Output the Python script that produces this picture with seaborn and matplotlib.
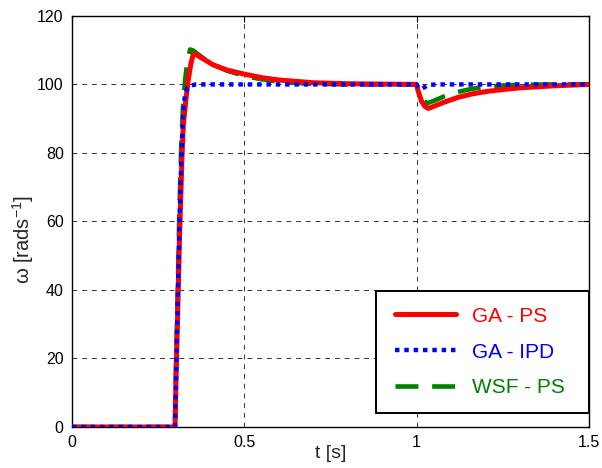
import numpy as np
import pandas as pd
import matplotlib
matplotlib.use("Agg")
import matplotlib.pyplot as plt
from matplotlib.legend_handler import HandlerLine2D
import seaborn as sns

# ---- data ----
t_ga_ps = [0, 0.299, 0.302, 0.306, 0.312, 0.319, 0.323, 0.330, 0.337, 0.345, 0.352, 0.360,
           0.38, 0.41, 0.45, 0.50, 0.55, 0.60, 0.65, 0.70, 0.80, 0.90, 1.0, 1.005, 1.015,
           1.025, 1.035, 1.05, 1.08, 1.12, 1.16, 1.20, 1.25, 1.30, 1.35, 1.40, 1.45, 1.5]
w_ga_ps = [0, 0, 15, 30, 55, 78, 88, 95, 101, 106, 108.8, 108.7,
           107.5, 105.7, 104.2, 103.0, 102.0, 101.3, 100.9, 100.5, 100.2, 100.1, 100, 98, 95,
           93.5, 93.0, 93.6, 94.8, 96.2, 97.2, 97.9, 98.5, 99.0, 99.3, 99.6, 99.8, 100]

t_ga_ipd = [0, 0.299, 0.303, 0.307, 0.312, 0.318, 0.323, 0.328, 0.335, 0.345, 0.36, 0.4,
            1.0, 1.004, 1.012, 1.02, 1.03, 1.04, 1.06, 1.5]
w_ga_ipd = [0, 0, 18, 38, 60, 80, 92, 97, 99, 99.7, 100, 100,
            100, 99.3, 98.6, 99.0, 99.6, 99.9, 100, 100]

t_wsf_ps = [0, 0.299, 0.302, 0.306, 0.311, 0.317, 0.322, 0.328, 0.335, 0.343, 0.35, 0.37,
            0.40, 0.45, 0.5, 0.55, 0.6, 0.65, 0.7, 0.8, 1.0, 1.005, 1.015, 1.03, 1.05,
            1.08, 1.12, 1.16, 1.2, 1.25, 1.3, 1.4, 1.5]
w_wsf_ps = [0, 0, 18, 35, 60, 82, 93, 101, 107, 110.2, 110, 108.5,
            106.3, 104.0, 102.5, 101.5, 100.8, 100.4, 100.2, 100.0, 100, 98.5, 96, 94.5, 95.2,
            96.5, 97.8, 98.7, 99.3, 99.7, 99.9, 100, 100]

labels = ["GA - PS", "GA - IPD", "WSF - PS"]
x_ticks = [0, 0.5, 1, 1.5]
x_tick_labels = ["0", "0.5", "1", "1.5"]
y_ticks = [0, 20, 40, 60, 80, 100, 120]

# ---- style ----
sns.set_style("white")
plt.rcParams["font.family"] = ["Liberation Sans", "DejaVu Sans"]
plt.rcParams["mathtext.fontset"] = "custom"
plt.rcParams["mathtext.rm"] = "Liberation Sans"
plt.rcParams["mathtext.it"] = "Liberation Sans"

fig = plt.figure(figsize=(6.02, 4.68), dpi=100)
ax = fig.add_axes([0.1196, 0.0876, 0.8584, 0.8784])

green = "#008000"
red = "#ff0000"
blue = "#0000ff"

sns.lineplot(x=t_wsf_ps, y=w_wsf_ps, ax=ax, color=green, linewidth=3.3,
             linestyle=(0, (5, 3)), label=labels[2], zorder=3)
sns.lineplot(x=t_ga_ps, y=w_ga_ps, ax=ax, color=red, linewidth=3.6,
             linestyle="-", label=labels[0], zorder=4)
sns.lineplot(x=t_ga_ipd, y=w_ga_ipd, ax=ax, color=blue, linewidth=3.2,
             linestyle=(0, (1, 1.1)), label=labels[1], zorder=5)

ax.set_xlim(0, 1.5)
ax.set_ylim(0, 120)
ax.set_xticks(x_ticks)
ax.set_xticklabels(x_tick_labels)
ax.set_yticks(y_ticks)
ax.tick_params(direction="in", length=4, width=0.8, top=True, right=True,
               labelsize=11.5, colors="black", pad=6)
for s in ax.spines.values():
    s.set_color("black")
    s.set_linewidth(1.0)

ax.grid(True, color="black", linestyle=(0, (5, 5)), linewidth=0.7, alpha=0.8)
ax.set_axisbelow(True)

ax.set_xlabel("t [s]", fontsize=14)
ax.xaxis.set_label_coords(0.5, -0.043)
ax.set_ylabel("ω [rads$^{-1}$]", fontsize=14.5)
ax.yaxis.set_label_coords(-0.069, 0.457)


class PadHandler(HandlerLine2D):
    """Line handler that leaves some space before the line."""
    def __init__(self, pad_pts, **kw):
        super().__init__(**kw)
        self.pad_pts = pad_pts

    def get_xdata(self, legend, xdescent, ydescent, width, height, fontsize):
        xdata, xm = super().get_xdata(legend, xdescent, ydescent, width, height, fontsize)
        xdata = np.linspace(xdata[0] + self.pad_pts, xdata[-1], len(xdata))
        return xdata, xm


handles, labs = ax.get_legend_handles_labels()
order = [labs.index(l) for l in labels]
hs = [handles[i] for i in order]
ls = [labs[i] for i in order]
leg_fs = 15
x0 = (376 - 72) / 517
y0 = (427 - 413) / 411
w = 1.0 - x0
h = (413 - 291) / 411
leg = ax.legend(hs, ls, loc="lower left", bbox_to_anchor=(x0, y0, w, h), mode="expand",
                fontsize=leg_fs, frameon=True, fancybox=False, edgecolor="black",
                framealpha=1, handlelength=3.1, handletextpad=0.77, labelspacing=0.81,
                borderpad=0.75, borderaxespad=0,
                handler_map={h_: PadHandler(2.5) for h_ in hs})
leg.get_frame().set_linewidth(1.4)
for txt, c in zip(leg.get_texts(), [red, blue, green]):
    txt.set_color(c)

fig.savefig("out.png", dpi=100)
